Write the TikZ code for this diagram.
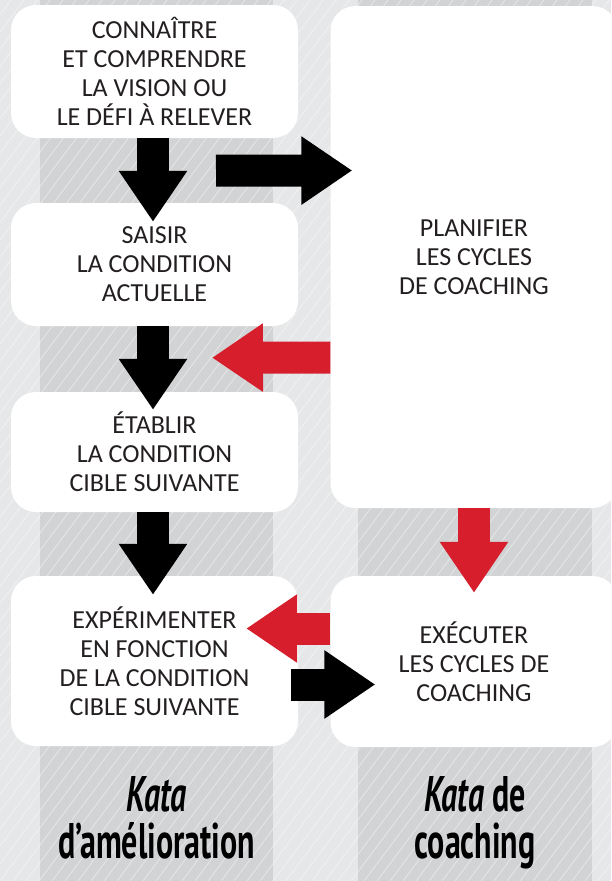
\documentclass[tikz,border=0pt]{standalone}
\usepackage{fontspec}
\setmainfont{Carlito}
\newfontfamily\katafont[FakeStretch=0.64]{PT Sans}
\usetikzlibrary{arrows.meta}

\definecolor{bggray}{RGB}{230,231,232}
\definecolor{colgray}{RGB}{209,211,212}
\definecolor{inkgray}{RGB}{35,31,32}
\definecolor{katared}{RGB}{215,30,45}

\tikzset{
  stepbox/.style={fill=white, rounded corners=25pt, inner sep=0pt, minimum width=287pt,
    align=center, text=inkgray, font=\fontsize{26}{29}\selectfont},
  kataarrow/.style={line width=32pt, -{Triangle[length=51pt,width=65pt]}},
  stripe/.style={white, opacity=0.45, line width=0.8pt},
  katalabel/.style={anchor=north, inner sep=0pt, align=center, text=black,
    font=\katafont\bfseries\fontsize{50}{47}\selectfont}
}

\begin{document}
\begin{tikzpicture}[x=1pt, y=-1pt]
\useasboundingbox (0,0) rectangle (611,881);
\clip (0,0) rectangle (611,881);

% background with the two columns
\fill[bggray] (0,0) rectangle (611,881);
\fill[colgray] (40,0) rectangle (273,881);
\fill[colgray] (358,0) rectangle (592,881);
\foreach \k in {-52,...,48}
  \draw[stripe] (\k*13,881) -- ++(661,-881);

% left column
\node[stepbox, minimum height=133pt] (vision) at (154.5,71.5)
  {CONNAÎTRE\\ET COMPRENDRE\\LA VISION OU\\LE DÉFI À RELEVER};
\node[stepbox, minimum height=123pt] (current) at (154.5,264.5)
  {SAISIR\\LA CONDITION\\ACTUELLE};
\node[stepbox, minimum height=120pt] (target) at (154.5,452)
  {ÉTABLIR\\LA CONDITION\\CIBLE SUIVANTE};
\node[stepbox, minimum height=170pt] (experiment) at (154.5,661)
  {EXPÉRIMENTER\\EN FONCTION\\DE LA CONDITION\\CIBLE SUIVANTE};

% right column
\node[stepbox, minimum height=502pt] (plan) at (474,257)
  {PLANIFIER\\LES CYCLES\\DE COACHING};
\node[stepbox, minimum height=171pt] (execute) at (474,661.5)
  {EXÉCUTER\\LES CYCLES DE\\COACHING};

% arrows
\coordinate (visionout) at ([xshift=61.5pt,yshift=-32.5pt]vision.south);
\draw[kataarrow, black] ([xshift=-1.5pt]vision.south) -- ([xshift=-1.5pt,yshift=-19pt]current.north);
\draw[kataarrow, black] (visionout) -- ([xshift=22pt,yshift=86.5pt]plan.west);
\draw[kataarrow, katared] ([yshift=-100.5pt]plan.west) -- ([xshift=57.5pt,yshift=-31.5pt]current.south);
\draw[kataarrow, black] ([xshift=-1.5pt]current.south) -- ([xshift=-1.5pt,yshift=-18pt]target.north);
\draw[kataarrow, black] ([xshift=-1.5pt]target.south) -- ([xshift=-1.5pt,yshift=-19pt]experiment.north);
\draw[kataarrow, katared] (plan.south) -- ([yshift=-17pt]execute.north);
\draw[kataarrow, katared] ([yshift=33pt]execute.west) -- ([xshift=-52pt,yshift=32.5pt]experiment.east);
\draw[kataarrow, black] ([xshift=-7pt,yshift=-23.5pt]experiment.east) -- ([xshift=45pt,yshift=-23pt]execute.west);

% column titles
\node[katalabel] (improvement) at (156.5,776) {\textit{Kata}\\d’amélioration};
\node[katalabel] (coaching) at (475,776) {\textit{Kata} de\\coaching};
\end{tikzpicture}
\end{document}
